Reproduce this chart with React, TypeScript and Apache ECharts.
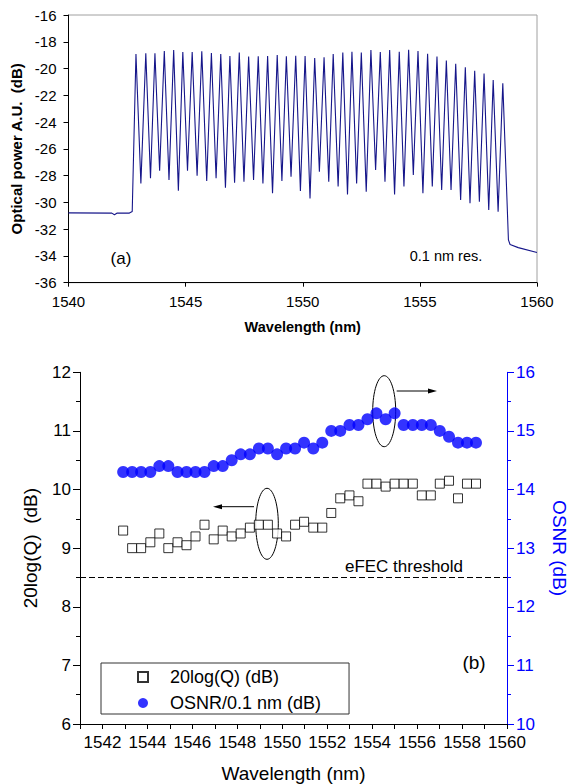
import React, { useEffect, useRef } from 'react';
import * as echarts from 'echarts';

const FONT = '"Liberation Sans", Arial, Helvetica, sans-serif';

// ---------- Panel (a): optical spectrum ----------
const baseLeftWl = [1540.0, 1541.85, 1541.96, 1542.08, 1542.6, 1542.72];
const baseLeftDb = [-30.78, -30.8, -30.92, -30.8, -30.8, -30.68];

const peakWl = [
  1542.88, 1543.30, 1543.69, 1544.09, 1544.49, 1544.88, 1545.28, 1545.69, 1546.10, 1546.50,
  1546.89, 1547.29, 1547.69, 1548.10, 1548.50, 1548.91, 1549.30, 1549.70, 1550.10, 1550.51,
  1550.91, 1551.30, 1551.71, 1552.10, 1552.50, 1552.91, 1553.31, 1553.71, 1554.12, 1554.52,
  1554.92, 1555.33, 1555.73, 1556.13, 1556.53, 1556.94, 1557.34, 1557.74, 1558.13, 1558.54,
];
const peakDb = [
  -18.91, -18.86, -18.86, -18.69, -18.61, -18.76, -18.76, -18.71, -18.84, -18.91,
  -19.06, -18.81, -19.11, -19.09, -19.06, -18.99, -19.09, -19.04, -19.06, -19.21,
  -19.16, -18.91, -18.81, -18.74, -18.81, -18.61, -18.76, -18.61, -18.74, -18.59,
  -18.69, -18.89, -19.11, -19.41, -19.64, -19.91, -20.16, -20.38, -20.86, -21.10,
];
const troughWl = [
  1543.09, 1543.50, 1543.89, 1544.29, 1544.69, 1545.08, 1545.49, 1545.90, 1546.30, 1546.70,
  1547.09, 1547.49, 1547.90, 1548.30, 1548.71, 1549.11, 1549.50, 1549.90, 1550.31, 1550.71,
  1551.11, 1551.51, 1551.91, 1552.30, 1552.71, 1553.11, 1553.51, 1553.92, 1554.32, 1554.72,
  1555.13, 1555.53, 1555.93, 1556.33, 1556.74, 1557.14, 1557.54, 1557.94, 1558.34,
];
const troughDb = [
  -28.58, -28.20, -27.63, -28.33, -29.12, -27.63, -28.00, -28.40, -28.20, -28.90,
  -28.53, -28.45, -28.33, -28.58, -29.32, -28.40, -28.08, -29.14, -29.70, -27.71,
  -28.45, -28.82, -29.40, -28.58, -29.20, -27.58, -28.45, -29.40, -28.82, -27.95,
  -29.32, -28.82, -29.07, -29.07, -29.82, -30.07, -29.95, -30.57, -30.70,
];
const baseRightWl = [1558.78, 1558.85, 1559.2, 1560.0];
const baseRightDb = [-32.8, -33.15, -33.38, -33.75];

// ---------- Panel (b): Q and OSNR per channel ----------
const chWl = [
  1542.92, 1543.32, 1543.72, 1544.13, 1544.53, 1544.93, 1545.34, 1545.74, 1546.14, 1546.54,
  1546.95, 1547.35, 1547.75, 1548.15, 1548.56, 1548.96, 1549.36, 1549.77, 1550.17, 1550.57,
  1550.97, 1551.38, 1551.78, 1552.18, 1552.58, 1552.99, 1553.39, 1553.79, 1554.19, 1554.60,
  1555.00, 1555.40, 1555.81, 1556.21, 1556.61, 1557.01, 1557.42, 1557.82, 1558.22, 1558.62,
];
const qDb = [
  9.3, 9.0, 9.0, 9.1, 9.25, 9.0, 9.1, 9.05, 9.2, 9.4,
  9.15, 9.3, 9.2, 9.25, 9.35, 9.4, 9.4, 9.25, 9.2, 9.4,
  9.45, 9.35, 9.35, 9.6, 9.85, 9.9, 9.8, 10.1, 10.1, 10.05,
  10.1, 10.1, 10.1, 9.9, 9.9, 10.1, 10.15, 9.85, 10.1, 10.1,
];
const osnrDb = [
  14.3, 14.3, 14.3, 14.3, 14.4, 14.4, 14.3, 14.3, 14.3, 14.3,
  14.4, 14.4, 14.5, 14.6, 14.6, 14.7, 14.7, 14.6, 14.7, 14.7,
  14.8, 14.7, 14.8, 15.0, 15.0, 15.1, 15.1, 15.2, 15.3, 15.2,
  15.3, 15.1, 15.1, 15.1, 15.1, 15.0, 14.9, 14.8, 14.8, 14.8,
];
const eFecThreshold = 8.5;

const seriesNames = ['20log(Q) (dB)', 'OSNR/0.1 nm (dB)'];

function buildSpectrum(): number[][] {
  const pts: number[][] = [];
  baseLeftWl.forEach((w, i) => pts.push([w, baseLeftDb[i]]));
  peakWl.forEach((w, i) => {
    pts.push([w, peakDb[i]]);
    if (i < troughWl.length) pts.push([troughWl[i], troughDb[i]]);
  });
  baseRightWl.forEach((w, i) => pts.push([w, baseRightDb[i]]));
  return pts;
}

export default function App() {
  const ref = useRef<HTMLDivElement>(null);

  useEffect(() => {
    if (!ref.current) return;
    const chart = echarts.init(ref.current, undefined, { renderer: 'svg' });
    const black = '#000';
    const blue = '#0000ff';

    const option: any = {
      animation: false,
      textStyle: { fontFamily: FONT },
      grid: [
        { left: 68.5, top: 15, width: 468.5, height: 267.7, show: true, borderColor: '#a0a0a0', borderWidth: 1, backgroundColor: 'transparent' },
        { left: 80, top: 372.3, width: 439, height: 354.7 },
      ],
      xAxis: [
        {
          gridIndex: 0, type: 'value', min: 1540, max: 1560, interval: 5,
          name: 'Wavelength (nm)', nameLocation: 'middle', nameGap: 37,
          nameTextStyle: { fontSize: 14.5, fontWeight: 'bold', color: black, fontFamily: FONT },
          axisLine: { lineStyle: { color: black, width: 1 } },
          axisTick: { show: true, length: 4, lineStyle: { color: black } },
          axisLabel: { fontSize: 15, color: black, margin: 11, fontFamily: FONT, formatter: (v: number) => String(v) },
          splitLine: { show: false },
        },
        {
          gridIndex: 1, type: 'value', min: 1541, max: 1560, interval: 1,
          name: 'Wavelength (nm)', nameLocation: 'middle', nameGap: 40,
          nameTextStyle: { fontSize: 19, color: black, fontFamily: FONT },
          axisLine: { lineStyle: { color: black, width: 1 } },
          axisTick: { show: true, length: 5, lineStyle: { color: black } },
          axisLabel: {
            fontSize: 17, color: black, margin: 10, fontFamily: FONT,
            formatter: (v: number) => (Math.round(v) % 2 === 0 ? String(v) : ''),
          },
          splitLine: { show: false },
        },
      ],
      yAxis: [
        {
          gridIndex: 0, type: 'value', min: -36, max: -16, interval: 2,
          name: 'Optical power A.U.  (dB)', nameLocation: 'middle', nameGap: 45, nameRotate: 90,
          nameTextStyle: { fontSize: 15, fontWeight: 'bold', color: black, fontFamily: FONT },
          axisLine: { show: true, lineStyle: { color: black, width: 1 } },
          axisTick: { show: true, length: 5, lineStyle: { color: black } },
          axisLabel: { fontSize: 15, color: black, margin: 12, fontFamily: FONT },
          splitLine: { show: false },
        },
        {
          gridIndex: 1, type: 'value', min: 6, max: 12, interval: 1, position: 'left',
          name: '20log(Q)  (dB)', nameLocation: 'middle', nameGap: 40, nameRotate: 90,
          nameTextStyle: { fontSize: 19, color: black, fontFamily: FONT },
          axisLine: { show: true, lineStyle: { color: black, width: 1 } },
          axisTick: { show: true, length: 7, lineStyle: { color: black } },
          minorTick: { show: true, splitNumber: 2, length: 4, lineStyle: { color: black } },
          axisLabel: { fontSize: 17, color: black, margin: 9, fontFamily: FONT },
          splitLine: { show: false },
        },
        {
          gridIndex: 1, type: 'value', min: 10, max: 16, interval: 1, position: 'right',
          name: 'OSNR (dB)', nameLocation: 'middle', nameGap: 43, nameRotate: -90,
          nameTextStyle: { fontSize: 19, color: blue, fontFamily: FONT },
          axisLine: { show: true, lineStyle: { color: blue, width: 1 } },
          axisTick: { show: true, length: 7, lineStyle: { color: blue } },
          minorTick: { show: true, splitNumber: 2, length: 4, lineStyle: { color: blue } },
          axisLabel: { fontSize: 17, color: blue, margin: 9, fontFamily: FONT },
          splitLine: { show: false },
        },
      ],
      legend: {
        data: seriesNames,
        orient: 'vertical',
        left: 101,
        top: 663,
        padding: [5, 28, 2, 36],
        itemGap: 8,
        itemWidth: 10,
        itemHeight: 10,
        borderColor: '#333',
        borderWidth: 1,
        textStyle: { fontSize: 18, color: black, fontFamily: FONT, lineHeight: 18, padding: [0, 0, 0, 17] },
      },
      series: [
        {
          type: 'line',
          name: 'spectrum',
          xAxisIndex: 0, yAxisIndex: 0,
          data: buildSpectrum(),
          showSymbol: false,
          symbol: 'none',
          lineStyle: { color: '#16168a', width: 1.1 },
          silent: true,
        },
        {
          type: 'scatter',
          name: seriesNames[0],
          xAxisIndex: 1, yAxisIndex: 1,
          data: chWl.map((w, i) => [w, qDb[i]]),
          symbol: 'rect',
          symbolSize: 9,
          itemStyle: { color: '#ffffff', borderColor: black, borderWidth: 1 },
          markLine: {
            silent: true,
            symbol: ['none', 'none'],
            label: { show: false },
            lineStyle: { color: black, type: [6, 3], width: 1.2 },
            data: [{ yAxis: eFecThreshold }],
          },
          z: 3,
        },
        {
          type: 'scatter',
          name: seriesNames[1],
          xAxisIndex: 1, yAxisIndex: 2,
          data: chWl.map((w, i) => [w, osnrDb[i]]),
          symbol: 'circle',
          symbolSize: 12,
          itemStyle: { color: blue },
          z: 2,
        },
      ],
      graphic: [
        { type: 'text', x: 121, y: 258, style: { text: '(a)', fontSize: 17, fontFamily: FONT, fill: black, textAlign: 'center', textVerticalAlign: 'middle' } },
        { type: 'text', x: 446, y: 256, style: { text: '0.1 nm res.', fontSize: 14.5, fontFamily: FONT, fill: black, textAlign: 'center', textVerticalAlign: 'middle' } },
        { type: 'text', x: 474, y: 662, style: { text: '(b)', fontSize: 19, fontFamily: FONT, fill: black, textAlign: 'center', textVerticalAlign: 'middle' } },
        { type: 'text', x: 404, y: 566, style: { text: 'eFEC threshold', fontSize: 17, fontFamily: FONT, fill: black, textAlign: 'center', textVerticalAlign: 'middle' } },
        { type: 'ellipse', shape: { cx: 267, cy: 523.8, rx: 11.3, ry: 35.5 }, style: { fill: 'none', stroke: black, lineWidth: 1 } },
        { type: 'ellipse', shape: { cx: 384.2, cy: 411.2, rx: 11.5, ry: 35.5 }, style: { fill: 'none', stroke: black, lineWidth: 1 } },
        { type: 'line', shape: { x1: 220, y1: 506.7, x2: 254, y2: 506.7 }, style: { stroke: black, lineWidth: 1 } },
        { type: 'polygon', shape: { points: [[213, 506.7], [222, 504.2], [222, 509.2]] }, style: { fill: black } },
        { type: 'line', shape: { x1: 396.7, y1: 391, x2: 430, y2: 391 }, style: { stroke: black, lineWidth: 1 } },
        { type: 'polygon', shape: { points: [[437, 391], [428, 388.5], [428, 393.5]] }, style: { fill: black } },
      ],
    };

    chart.setOption(option);
    return () => chart.dispose();
  }, []);

  return (
    <div
      ref={ref}
      style={{ position: 'fixed', left: 0, top: 0, width: 577, height: 784, background: '#fff' }}
    />
  );
}
